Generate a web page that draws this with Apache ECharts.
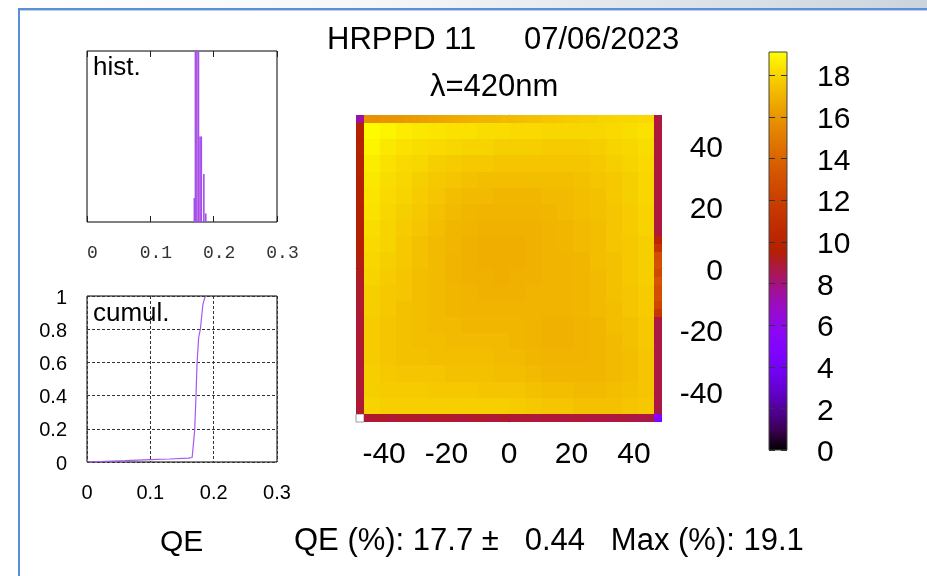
<!DOCTYPE html>
<html>
<head>
<meta charset="utf-8">
<script src="https://cdn.jsdelivr.net/npm/echarts@6/dist/echarts.min.js"></script>
<style>
html,body{margin:0;padding:0;background:#ffffff;}
#chart{width:927px;height:576px;}
</style>
</head>
<body>
<div id="chart"></div>
<script>
// ---------------- data ----------------
const titleText = 'HRPPD 11';
const dateText = '07/06/2023';
const waveText = 'λ=420nm';
const qeMean = 17.7, qeStd = 0.44, qeMax = 19.1;

// QE map (%), 38 x 38 scan cells
const xMin = -49, xMax = 49, yMin = -50, yMax = 50, nCells = 38;
const heatTicks = [-40, -20, 0, 20, 40];
const cbMin = 0, cbMax = 19.1;
const cbTicks = [0, 2, 4, 6, 8, 10, 12, 14, 16, 18];

const cornerTL = 7.4, cornerTR = 8.8, cornerBL = null, cornerBR = 4.8;
// edge row/columns (index 1..36)
const topRow = [15.8,15.8,15.9,15.9,16.0,16.1,16.2,16.3,16.4,16.5,
                16.6,16.7,16.8,16.9,17.0,17.0,17.1,17.2,17.2,17.3,
                17.4,17.4,17.5,17.5,17.6,17.7,17.7,17.8,17.8,17.9,
                17.9,18.0,18.0,18.0,18.1,18.1];
const bottomRow = [8.9,9.0,9.0,8.9,9.0,9.0,9.0,8.9,9.0,9.0,
                   9.0,8.9,8.9,9.0,9.0,8.9,8.9,9.0,8.9,8.9,
                   8.9,8.8,8.9,8.9,8.8,8.8,8.9,8.8,8.8,8.8,
                   8.7,8.8,8.8,8.7,8.7,8.7];
const leftCol = [9.7,9.7,9.6,9.7,9.6,9.7,9.7,9.6,9.6,9.7,
                 9.6,9.6,9.5,9.6,9.5,9.5,9.4,9.3,9.2,9.1,
                 9.0,9.0,8.9,9.0,8.9,8.9,9.0,8.9,8.9,8.9,
                 8.8,8.9,8.9,8.8,8.9,8.9];
const rightCol = [8.8,8.8,8.8,8.8,8.8,8.8,8.8,8.8,8.8,8.8,
                  8.8,8.8,8.8,8.8,10.0,11.2,12.8,13.1,12.6,13.3,
                  12.9,13.0,12.4,11.5,8.7,8.7,8.7,8.7,8.7,8.7,
                  8.7,8.7,8.7,8.7,8.7,8.7];
// interior read at 2x2-cell resolution (18 x 18 blocks, top row first)
const interior = [
 [19.0,18.8,18.6,18.5,18.4,18.3,18.3,18.2,18.2,18.1,18.1,18.0,18.0,18.0,18.0,18.1,18.2,18.3],
 [18.8,18.5,18.3,18.2,18.1,18.0,17.9,17.9,17.8,17.8,17.8,17.7,17.7,17.7,17.8,17.9,18.0,18.2],
 [18.6,18.3,18.1,18.0,17.8,17.7,17.6,17.6,17.5,17.5,17.5,17.5,17.5,17.5,17.6,17.8,17.9,18.1],
 [18.5,18.2,18.0,17.8,17.6,17.5,17.4,17.3,17.3,17.3,17.3,17.3,17.3,17.4,17.5,17.6,17.8,18.0],
 [18.4,18.1,17.9,17.7,17.5,17.3,17.2,17.2,17.1,17.1,17.1,17.2,17.2,17.3,17.4,17.6,17.8,18.0],
 [18.3,18.0,17.8,17.6,17.4,17.2,17.1,17.0,17.0,17.0,17.0,17.1,17.2,17.3,17.4,17.5,17.7,17.9],
 [18.2,17.9,17.7,17.5,17.3,17.1,17.0,16.9,16.9,16.9,16.9,17.0,17.1,17.2,17.3,17.5,17.7,17.9],
 [18.1,17.9,17.6,17.4,17.2,17.1,16.9,16.8,16.8,16.8,16.9,17.0,17.1,17.2,17.3,17.5,17.6,17.8],
 [18.0,17.8,17.6,17.4,17.2,17.0,16.9,16.8,16.8,16.8,16.9,17.0,17.0,17.1,17.3,17.4,17.6,17.8],
 [17.9,17.7,17.5,17.3,17.2,17.0,16.9,16.9,16.8,16.9,16.9,17.0,17.0,17.1,17.2,17.4,17.6,17.8],
 [17.8,17.6,17.5,17.3,17.2,17.1,17.0,16.9,16.9,16.9,17.0,17.0,17.0,17.1,17.2,17.4,17.5,17.7],
 [17.8,17.6,17.4,17.3,17.2,17.1,17.0,17.0,17.0,17.0,17.0,17.0,17.0,17.1,17.2,17.3,17.5,17.7],
 [17.7,17.5,17.4,17.3,17.2,17.2,17.1,17.1,17.1,17.1,17.0,16.9,16.9,17.0,17.1,17.3,17.4,17.6],
 [17.7,17.5,17.4,17.3,17.3,17.2,17.2,17.2,17.2,17.1,17.0,16.9,16.9,17.0,17.1,17.2,17.4,17.6],
 [17.7,17.5,17.4,17.4,17.3,17.3,17.3,17.3,17.2,17.2,17.1,17.0,17.0,17.0,17.1,17.2,17.3,17.5],
 [17.8,17.6,17.5,17.5,17.5,17.4,17.4,17.4,17.3,17.3,17.2,17.1,17.1,17.1,17.1,17.2,17.3,17.5],
 [17.8,17.7,17.7,17.7,17.6,17.6,17.6,17.5,17.5,17.5,17.4,17.3,17.3,17.2,17.2,17.3,17.4,17.5],
 [17.9,17.8,17.8,17.8,17.8,17.8,17.8,17.8,17.8,17.7,17.6,17.5,17.5,17.4,17.4,17.4,17.5,17.6]
];

// histogram of QE (fraction), relative heights
const qeTicks = [0, 0.1, 0.2, 0.3];
const histX = [0.1695, 0.1712, 0.1735, 0.1760, 0.1785, 0.1805, 0.1845, 0.1875];
const histY = [0.14, 1.00, 1.00, 1.00, 0.50, 0.50, 0.28, 0.05];
// cumulative distribution
const cumTicks = [0, 0.2, 0.4, 0.6, 0.8, 1];
const cumX = [0, 0.03, 0.06, 0.10, 0.13, 0.16, 0.166, 0.170, 0.172, 0.1737, 0.1763, 0.179, 0.183, 0.186, 0.188];
const cumY = [0, 0.004, 0.008, 0.014, 0.018, 0.023, 0.027, 0.19, 0.39, 0.59, 0.75, 0.80, 0.95, 0.99, 1.0];

// gnuplot default pm3d palette (rgbformulae 7,5,15), 21 stops
const palette = ['#000000','#39004f','#510096','#6301ce','#7202f3','#8004ff','#8c07f3',
  '#970bce','#a11096','#ab174f','#b42000','#bd2a00','#c63700','#ce4600','#d55700',
  '#dd6c00','#e48300','#eb9d00','#f2ba00','#f9db00','#ffff00'];

// ---------------- build cells ----------------
const cellW = (xMax - xMin) / nCells;
const cellH = (yMax - yMin) / nCells;
function cell(col, row, span, v) {
  // col,row: index from left / from top; span: number of cells covered
  const x0 = xMin + cellW * col, x1 = x0 + cellW * span;
  const y1 = yMax - cellH * row, y0 = y1 - cellH * span;
  return [x0, x1, y0, y1, v == null ? '-' : v];
}
const heatData = [];
heatData.push(cell(0, 0, 1, cornerTL));
heatData.push(cell(nCells - 1, 0, 1, cornerTR));
heatData.push(cell(0, nCells - 1, 1, cornerBL));
heatData.push(cell(nCells - 1, nCells - 1, 1, cornerBR));
topRow.forEach((v, i) => heatData.push(cell(i + 1, 0, 1, v)));
bottomRow.forEach((v, i) => heatData.push(cell(i + 1, nCells - 1, 1, v)));
leftCol.forEach((v, i) => heatData.push(cell(0, i + 1, 1, v)));
rightCol.forEach((v, i) => heatData.push(cell(nCells - 1, i + 1, 1, v)));
interior.forEach((row, r) => row.forEach((v, c) => heatData.push(cell(1 + 2 * c, 1 + 2 * r, 2, v))));

const FONT = 'Liberation Sans';
const chart = echarts.init(document.getElementById('chart'), null, {renderer: 'canvas'});

function txt(text, left, top, size) {
  return {text: text, left: left, top: top, padding: 0,
    textStyle: {fontFamily: FONT, fontSize: size, fontWeight: 'normal', color: '#000'}};
}
// label with a small downward nudge (rich padding on top)
function nudged(size, down) {
  return {formatter: v => '{a|' + v + '}',
    rich: {a: {fontFamily: FONT, fontSize: size, color: '#000', padding: [down * 2, 0, 0, 0]}}};
}

const option = {
  animation: false,
  backgroundColor: '#ffffff',
  graphic: [
    {type: 'rect', shape: {x: 0, y: 0, width: 927, height: 8}, silent: true,
     style: {fill: new echarts.graphic.LinearGradient(0, 0, 1, 0, [
       {offset: 0, color: '#ffffff'}, {offset: 0.4, color: '#f6f7f9'}, {offset: 1, color: '#cbd4dd'}])}},
    {type: 'rect', shape: {x: 18, y: 8, width: 909, height: 2}, silent: true, style: {fill: '#5b8ed6'}},
    {type: 'rect', shape: {x: 20, y: 10, width: 907, height: 1}, silent: true, style: {fill: '#b9d1ef'}},
    {type: 'rect', shape: {x: 18, y: 8, width: 2, height: 568}, silent: true, style: {fill: '#5b8ed6'}}
  ],
  title: [
    txt(titleText, 327, 25, 31),
    txt(dateText, 524, 25, 31),
    txt(waveText, 430, 72, 31),
    txt('hist.', 93, 55, 26),
    txt('cumul.', 93, 301, 26),
    txt('QE', 160, 528, 30),
    txt('QE (%): ' + qeMean.toFixed(1) + ' \u00b1   ' + qeStd.toFixed(2) + '   Max (%): ' + qeMax.toFixed(1), 294, 526, 31)
  ],
  grid: [
    {left: 87, top: 51, width: 190, height: 171, show: true, borderColor: '#000', borderWidth: 1, backgroundColor: 'transparent'},
    {left: 87, top: 296, width: 190, height: 166, show: true, borderColor: '#000', borderWidth: 1, backgroundColor: 'transparent'},
    {left: 356, top: 115, width: 306, height: 307},
    {left: 769, top: 52, width: 18, height: 398}
  ],
  visualMap: [{
    type: 'continuous', show: false, min: cbMin, max: cbMax, dimension: 4, seriesIndex: 2,
    inRange: {color: palette}
  }],
  xAxis: [
    {gridIndex: 0, type: 'value', min: 0, max: 0.3, interval: 0.1, position: 'bottom',
     axisLine: {show: false}, splitLine: {show: false},
     axisTick: {show: true, inside: true, length: 6, lineStyle: {color: '#222'}},
     axisLabel: {margin: 22, formatter: v => '{m|' + v + '}',
       rich: {m: {fontFamily: 'Liberation Mono', fontSize: 18, color: '#333', padding: [0, 0, 0, 11]}}}},
    {gridIndex: 0, type: 'value', min: 0, max: 0.3, interval: 0.1, position: 'top',
     axisLine: {show: false}, splitLine: {show: false}, axisLabel: {show: false},
     axisTick: {show: true, inside: true, length: 6, lineStyle: {color: '#222'}}},
    {gridIndex: 1, type: 'value', min: 0, max: 0.3, interval: 0.1,
     axisLine: {show: false}, axisTick: {show: false},
     splitLine: {show: true, lineStyle: {color: '#333', type: [3, 2], width: 1}},
     axisLabel: {margin: 21, fontFamily: FONT, fontSize: 20, color: '#000'}},
    {gridIndex: 2, type: 'value', min: xMin, max: xMax,
     axisLine: {show: true, lineStyle: {color: '#a0a0a0', width: 1}}, axisTick: {show: false},
     splitLine: {show: false},
     axisLabel: {customValues: heatTicks, margin: 18, fontFamily: FONT, fontSize: 30, color: '#000'}},
    {gridIndex: 3, type: 'value', min: 0, max: 1, show: false}
  ],
  yAxis: [
    {gridIndex: 0, type: 'value', min: 0, max: 1, show: false},
    {gridIndex: 1, type: 'value', min: 0, max: 1, interval: 0.2,
     axisLine: {show: false}, axisTick: {show: false},
     splitLine: {show: true, lineStyle: {color: '#333', type: [3, 2], width: 1}},
     axisLabel: Object.assign({margin: 20}, nudged(20, 2))},
    {gridIndex: 2, type: 'value', min: yMin, max: yMax, position: 'right',
     axisLine: {show: true, lineStyle: {color: '#a0a0a0', width: 1}}, axisTick: {show: false},
     splitLine: {show: false},
     axisLabel: Object.assign({customValues: heatTicks, margin: 61, align: 'right'}, nudged(30, 3))},
    {gridIndex: 3, type: 'value', min: cbMin, max: cbMax, position: 'right',
     axisLine: {show: false}, splitLine: {show: false}, axisTick: {show: false},
     axisLabel: Object.assign({customValues: cbTicks, margin: 30}, nudged(30, 3))}
  ],
  series: [
    {type: 'bar', xAxisIndex: 0, yAxisIndex: 0, barWidth: 1.6,
     itemStyle: {color: '#a64ee8'},
     data: histX.map((x, i) => [x, histY[i]])},
    {type: 'line', xAxisIndex: 2, yAxisIndex: 1, showSymbol: false, symbol: 'none',
     lineStyle: {color: '#a857ee', width: 1.2},
     data: cumX.map((x, i) => [x, cumY[i]])},
    {type: 'custom', xAxisIndex: 3, yAxisIndex: 2, encode: {x: [0, 1], y: [2, 3]},
     data: heatData,
     renderItem: function (params, api) {
       const v = api.value(4);
       const p0 = api.coord([api.value(0), api.value(3)]);
       const p1 = api.coord([api.value(1), api.value(2)]);
       const x = Math.round(p0[0]), y = Math.round(p0[1]);
       const w = Math.round(p1[0]) - x, h = Math.round(p1[1]) - y;
       const empty = isNaN(v);
       return {type: 'rect', shape: {x: x, y: y, width: w, height: h},
         style: empty ? {fill: '#ffffff', stroke: '#9a9a9a', lineWidth: 1}
                      : {fill: api.visual('color')}};
     }},
    {type: 'custom', xAxisIndex: 4, yAxisIndex: 3, encode: {x: [0, 1], y: [2, 3]},
     data: [[0, 1, cbMin, cbMax]],
     renderItem: function (params, api) {
       const p0 = api.coord([api.value(0), api.value(3)]);
       const p1 = api.coord([api.value(1), api.value(2)]);
       const stops = palette.map((c, i) => ({offset: i / (palette.length - 1), color: c}));
       const children = [{type: 'rect', shape: {x: p0[0], y: p0[1], width: p1[0] - p0[0], height: p1[1] - p0[1]},
         style: {fill: new echarts.graphic.LinearGradient(0, 1, 0, 0, stops), stroke: '#444', lineWidth: 1}}];
       cbTicks.forEach(t => {
         const yy = Math.round(api.coord([0, t])[1]) + 0.5;
         children.push({type: 'line', shape: {x1: p0[0], y1: yy, x2: p0[0] + 6, y2: yy}, style: {stroke: '#333', lineWidth: 1}});
         children.push({type: 'line', shape: {x1: p1[0] - 6, y1: yy, x2: p1[0], y2: yy}, style: {stroke: '#333', lineWidth: 1}});
       });
       return {type: 'group', children: children};
     }}
  ]
};
chart.setOption(option);
</script>
</body>
</html>
